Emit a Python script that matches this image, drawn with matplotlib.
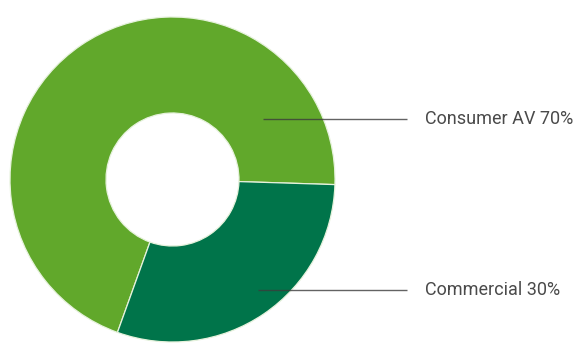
import matplotlib
matplotlib.use("Agg")
import matplotlib.pyplot as plt

# revenue split
segments = ["Consumer AV", "Commercial"]
shares = [70, 30]
colors = ["#61a82b", "#00744a"]

# layout (pixels, y measured from top)
W, H = 581, 343
cx, cy = 172.5, 179.5
r_out = 162.5
r_in = 66.5
label_y = [119, 290]
line_x0 = [263, 258]
line_x1 = 407
text_x = 425

fig = plt.figure(figsize=(W / 100, H / 100), dpi=100)
ax = fig.add_axes([0, 0, 1, 1])

ax.pie(shares, colors=colors, startangle=-1.8, counterclock=True,
       center=(cx, H - cy), radius=r_out,
       wedgeprops=dict(width=r_out - r_in, edgecolor="#e6f2dc", linewidth=0.9))

ax.set_xlim(0, W)
ax.set_ylim(0, H)
ax.set_aspect("equal")
ax.axis("off")

for name, pct, y, x0 in zip(segments, shares, label_y, line_x0):
    ax.plot([x0, line_x1], [H - y, H - y], color="#3c3c3c", lw=1.0,
            alpha=0.8, solid_capstyle="butt")
    ax.text(text_x, H - y, f"{name} {pct}%", ha="left", va="center",
            fontsize=13, color="#4a4a4a", family="Roboto")

fig.savefig("out.png", dpi=100)
